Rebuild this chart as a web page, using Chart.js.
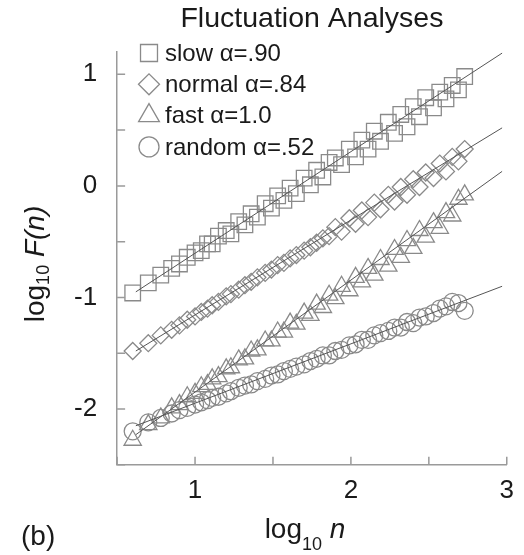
<!DOCTYPE html>
<html>
<head>
<meta charset="utf-8">
<script src="https://cdn.jsdelivr.net/npm/chart.js@4.4.0/dist/chart.umd.min.js"></script>
<style>
  html, body { margin: 0; padding: 0; background: #fff; }
  #wrap { width: 524px; height: 555px; position: relative; }
</style>
</head>
<body>
<div id="wrap"><canvas id="chart"></canvas></div>
<script>
// log10 of the box sizes n (shared by all four series)
const logN = [0.60, 0.70, 0.78, 0.85, 0.90, 0.95, 1.00, 1.04, 1.08, 1.11, 1.15, 1.20, 1.23, 1.28, 1.32, 1.36, 1.40,
  1.45, 1.49, 1.53, 1.57, 1.61, 1.65, 1.70, 1.74, 1.78, 1.82, 1.86, 1.90, 1.94, 1.99, 2.03, 2.07, 2.11, 2.15,
  2.19, 2.24, 2.28, 2.32, 2.36, 2.40, 2.44, 2.48, 2.53, 2.57, 2.61, 2.65, 2.69, 2.73];

// log10 F(n)
const slowF = [-0.96, -0.87, -0.80, -0.74, -0.70, -0.64, -0.60, -0.58, -0.52, -0.52, -0.45, -0.40, -0.43, -0.32,
  -0.35, -0.25, -0.28, -0.16, -0.20, -0.09, -0.13, -0.02, -0.07, 0.07, 0.01, 0.14, 0.08, 0.21, 0.25, 0.19, 0.33,
  0.26, 0.41, 0.33, 0.49, 0.40, 0.57, 0.47, 0.64, 0.53, 0.71, 0.62, 0.79, 0.70, 0.84, 0.78, 0.90, 0.86, 0.98];
const normalF = [-1.48, -1.41, -1.34, -1.29, -1.25, -1.20, -1.17, -1.13, -1.10, -1.07, -1.04, -0.99, -0.97, -0.93,
  -0.89, -0.86, -0.82, -0.78, -0.75, -0.71, -0.69, -0.65, -0.62, -0.58, -0.55, -0.51, -0.47, -0.45, -0.37, -0.41,
  -0.29, -0.34, -0.22, -0.28, -0.15, -0.21, -0.08, -0.14, -0.01, -0.08, 0.06, -0.01, 0.12, 0.07, 0.20, 0.13, 0.26,
  0.22, 0.33];
const fastF = [-2.28, -2.14, -2.08, -1.99, -1.96, -1.89, -1.86, -1.80, -1.78, -1.73, -1.71, -1.64, -1.63, -1.56,
  -1.55, -1.48, -1.47, -1.39, -1.39, -1.31, -1.31, -1.23, -1.24, -1.14, -1.16, -1.06, -1.09, -0.98, -1.01, -0.90,
  -0.94, -0.82, -0.86, -0.74, -0.80, -0.66, -0.72, -0.57, -0.64, -0.49, -0.56, -0.40, -0.46, -0.33, -0.38, -0.24,
  -0.27, -0.12, -0.08];
const randomF = [-2.20, -2.12, -2.08, -2.04, -2.01, -1.99, -1.96, -1.94, -1.92, -1.90, -1.89, -1.86, -1.84, -1.81,
  -1.79, -1.78, -1.75, -1.73, -1.70, -1.69, -1.66, -1.64, -1.62, -1.60, -1.57, -1.55, -1.52, -1.52, -1.48, -1.47,
  -1.43, -1.42, -1.38, -1.38, -1.34, -1.32, -1.30, -1.27, -1.27, -1.22, -1.23, -1.18, -1.17, -1.14, -1.10, -1.08,
  -1.04, -1.05, -1.12];

// fitted lines: end points
const fitX = [0.62, 2.97];
const slowFit = [-0.95, 1.19];
const normalFit = [-1.48, 0.52];
const fastFit = [-2.23, 0.13];
const randomFit = [-2.15, -0.90];

const seriesLabels = ['slow α=.90', 'normal α=.84', 'fast α=1.0', 'random α=.52'];
// tick positions (every half unit, only whole units get a label)
const xTicks = [0.5, 1, 1.5, 2, 2.5, 3];
const yTicks = [-2.5, -2, -1.5, -1, -0.5, 0, 0.5, 1];
const xTickLabels = ['', '1', '', '2', '', '3'];
const yTickLabels = ['', '-2', '', '-1', '', '0', '', '1'];

const markerColor = '#8a8a8a';
const lineColor = '#555';
const axisColor = '#9a9a9a';
const textColor = '#1a1a1a';
const fontFamily = 'Arial, "Liberation Sans", Helvetica, sans-serif';

const pts = (ys) => logN.map((x, i) => ({ x: x, y: ys[i] }));
const fit = (ys) => fitX.map((x, i) => ({ x: x, y: ys[i] }));

function markerSet(label, ys, style, radius) {
  return {
    label: label,
    data: pts(ys),
    showLine: false,
    pointStyle: style,
    pointRadius: radius,
    pointBorderColor: markerColor,
    pointBackgroundColor: 'rgba(0,0,0,0)',
    pointBorderWidth: 1.3,
    order: 2
  };
}

function fitSet(ys) {
  return {
    label: '',
    data: fit(ys),
    showLine: true,
    pointRadius: 0,
    borderColor: lineColor,
    borderWidth: 1,
    order: 1
  };
}

const legendItems = [
  { style: 'rect', radius: 12 },
  { style: 'rectRot', radius: 10.5 },
  { style: 'triangle', radius: 12 },
  { style: 'circle', radius: 10 }
];

const frame = {
  id: 'frame',
  afterDraw(chart) {
    const ctx = chart.ctx;
    const xs = chart.scales.x, ys = chart.scales.y;
    const area = chart.chartArea;

    // inward tick marks
    ctx.save();
    ctx.strokeStyle = axisColor;
    ctx.lineWidth = 1.5;
    ctx.beginPath();
    xs.ticks.forEach(t => {
      const px = xs.getPixelForValue(t.value);
      ctx.moveTo(px, area.bottom);
      ctx.lineTo(px, area.bottom - 8);
    });
    ys.ticks.forEach(t => {
      const py = ys.getPixelForValue(t.value);
      ctx.moveTo(area.left, py);
      ctx.lineTo(area.left + 8, py);
    });
    ctx.stroke();
    ctx.restore();

    // legend
    ctx.save();
    ctx.font = '24px ' + fontFamily;
    ctx.textBaseline = 'middle';
    legendItems.forEach((item, i) => {
      const cy = 53 + i * 31.3;
      ctx.strokeStyle = markerColor;
      ctx.fillStyle = 'rgba(0,0,0,0)';
      ctx.lineWidth = 1.3;
      Chart.helpers.drawPoint(ctx, { pointStyle: item.style, radius: item.radius, rotation: 0, borderWidth: 1.3 }, 149, cy);
      ctx.fillStyle = textColor;
      ctx.fillText(seriesLabels[i], 165, cy + 1);
    });
    ctx.restore();

    // axis titles with subscripts
    ctx.save();
    ctx.fillStyle = textColor;
    ctx.textBaseline = 'alphabetic';
    const big = '28px ' + fontFamily, small = '18px ' + fontFamily, ital = 'italic 28px ' + fontFamily;
    const parts = (list) => {
      let w = 0;
      list.forEach(p => { ctx.font = p.f; p.w = ctx.measureText(p.t).width; w += p.w; });
      return w;
    };
    const drawParts = (list, x0, y0) => {
      let x = x0;
      list.forEach(p => { ctx.font = p.f; ctx.fillText(p.t, x, y0 + (p.dy || 0)); x += p.w; });
    };
    // x title
    const xt = [{ t: 'log', f: big }, { t: '10', f: small, dy: 12 }, { t: ' ', f: big }, { t: 'n', f: ital }];
    const xw = parts(xt);
    drawParts(xt, 305 - xw / 2, 538);
    // y title (rotated)
    const yt = [{ t: 'log', f: big }, { t: '10', f: small, dy: 5 }, { t: ' ', f: big }, { t: 'F(n)', f: ital }];
    const yw = parts(yt);
    ctx.translate(44, 264);
    ctx.rotate(-Math.PI / 2);
    drawParts(yt, -yw / 2, 0);
    ctx.restore();

    // panel label
    ctx.save();
    ctx.fillStyle = textColor;
    ctx.font = '28px ' + fontFamily;
    ctx.textBaseline = 'alphabetic';
    ctx.fillText('(b)', 21, 545);
    ctx.restore();
  }
};

new Chart(document.getElementById('chart'), {
  type: 'scatter',
  data: {
    datasets: [
      markerSet(seriesLabels[0], slowF, 'rect', 11),
      markerSet(seriesLabels[1], normalF, 'rectRot', 8.5),
      markerSet(seriesLabels[2], fastF, 'triangle', 10),
      markerSet(seriesLabels[3], randomF, 'circle', 8.5),
      fitSet(slowFit),
      fitSet(normalFit),
      fitSet(fastFit),
      fitSet(randomFit)
    ]
  },
  options: {
    responsive: true,
    maintainAspectRatio: false,
    animation: false,
    layout: { padding: { left: 54, right: 17, top: 0, bottom: 39 } },
    plugins: {
      legend: { display: false },
      tooltip: { enabled: false },
      title: {
        display: true,
        text: 'Fluctuation Analyses',
        fullSize: false,
        color: textColor,
        font: { family: fontFamily, size: 28.5, weight: 'normal' },
        padding: { top: 2, bottom: 15.8 }
      }
    },
    scales: {
      x: {
        type: 'linear',
        min: 0.5,
        max: 3,
        afterBuildTicks: (s) => { s.ticks = xTicks.map(v => ({ value: v })); },
        grid: { display: false, drawTicks: false },
        border: { display: true, color: axisColor, width: 1.5 },
        ticks: {
          autoSkip: false,
          maxRotation: 0,
          padding: 10,
          color: textColor,
          font: { family: fontFamily, size: 26 },
          callback: (v, i) => xTickLabels[i]
        }
      },
      y: {
        type: 'linear',
        min: -2.5,
        max: 1.2,
        afterBuildTicks: (s) => { s.ticks = yTicks.map(v => ({ value: v })); },
        grid: { display: false, drawTicks: false },
        border: { display: true, color: axisColor, width: 1.5 },
        ticks: {
          autoSkip: false,
          padding: 20,
          color: textColor,
          font: { family: fontFamily, size: 26 },
          callback: (v, i) => yTickLabels[i]
        }
      }
    }
  },
  plugins: [frame]
});
</script>
</body>
</html>
